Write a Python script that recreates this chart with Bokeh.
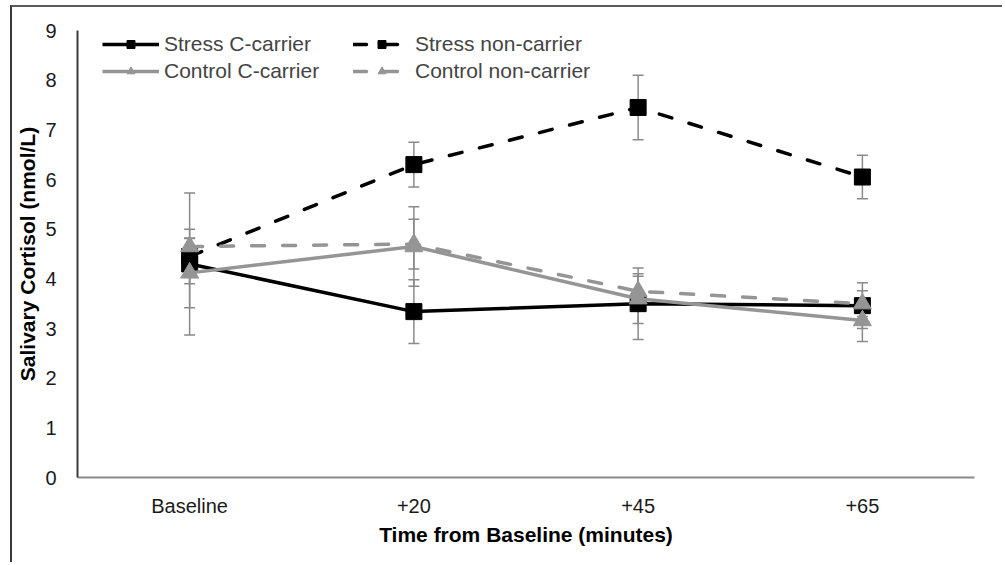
from bokeh.plotting import figure
from bokeh.models import (ColumnDataSource, FactorRange, Range1d, FixedTicker,
                          Whisker, TeeHead, Legend, LegendItem)
from bokeh.embed import file_html
from bokeh.resources import INLINE

# ---- data ----
times = ["Baseline", "+20", "+45", "+65"]

stress_c_mean = [4.30, 3.34, 3.50, 3.46]
stress_c_err = [1.43, 0.64, 0.72, 0.46]

stress_non_mean = [4.45, 6.30, 7.45, 6.05]
stress_non_err = [0.55, 0.45, 0.65, 0.44]

control_c_mean = [4.12, 4.65, 3.60, 3.16]
control_c_err = [0.70, 0.80, 0.50, 0.42]

control_non_mean = [4.65, 4.70, 3.75, 3.50]
control_non_err = [0.16, 0.50, 0.30, 0.26]

series = [
    ("Stress C-carrier", stress_c_mean, stress_c_err, "#000000", "solid", "square"),
    ("Stress non-carrier", stress_non_mean, stress_non_err, "#000000", "13 18", "square"),
    ("Control C-carrier", control_c_mean, control_c_err, "#959595", "solid", "triangle"),
    ("Control non-carrier", control_non_mean, control_non_err, "#959595", "13 18", "triangle"),
]

FONT = "Liberation Sans"

p = figure(width=992, height=557, x_range=FactorRange(*times, range_padding=0),
           y_range=Range1d(0, 9), output_backend="svg", toolbar_location=None,
           min_border_left=65, min_border_right=30, min_border_top=23,
           min_border_bottom=87)
p.styles = {"border-left": "2px solid #3a3a3a", "border-top": "2px solid #5a5a5a",
            "margin-left": "10px", "margin-top": "5px"}
p.outline_line_color = None
p.xgrid.grid_line_color = None
p.ygrid.grid_line_color = None

# axes
p.yaxis.ticker = FixedTicker(ticks=list(range(0, 10)))
p.yaxis.axis_line_color = "#3c3c3c"
p.yaxis.axis_line_width = 2
p.yaxis.major_tick_line_color = None
p.yaxis.minor_tick_line_color = None
p.yaxis.major_label_standoff = 15
p.yaxis.axis_label = "Salivary Cortisol (nmol/L)"
p.yaxis.axis_label_standoff = 3

p.xaxis.axis_line_color = "#8a8a8a"
p.xaxis.axis_line_width = 2
p.xaxis.major_tick_line_color = None
p.xaxis.minor_tick_line_color = None
p.xaxis.major_label_standoff = 11
p.xaxis.axis_label = "Time from Baseline (minutes)"
p.xaxis.axis_label_standoff = 3

for ax in (p.xaxis, p.yaxis):
    ax.major_label_text_font = FONT
    ax.major_label_text_font_size = "20px"
    ax.major_label_text_color = "#1a1a1a"
    ax.axis_label_text_font = FONT
    ax.axis_label_text_font_size = "21px"
    ax.axis_label_text_font_style = "bold"
    ax.axis_label_text_color = "#000000"

line_renderers = []
marker_renderers = []
for name, mean, err, color, dash, marker in series:
    src = ColumnDataSource(dict(x=times, y=mean,
                                lo=[m - e for m, e in zip(mean, err)],
                                hi=[m + e for m, e in zip(mean, err)]))
    lr = p.line("x", "y", source=src, line_color=color, line_width=3.5,
                line_dash=dash, line_cap="round" if dash != "solid" else "butt")
    line_renderers.append(lr)
    w = Whisker(base="x", upper="hi", lower="lo", source=src,
                line_color="#8a8a8a", line_width=1.5,
                upper_head=TeeHead(size=11, line_color="#8a8a8a", line_width=1.5),
                lower_head=TeeHead(size=11, line_color="#8a8a8a", line_width=1.5))
    p.add_layout(w)
    src2 = ColumnDataSource(dict(x=times, y=mean))
    mr = p.scatter("x", "y", source=src2, marker=marker, size=16 if marker == "square" else 18,
                   fill_color=color, line_color=color)
    marker_renderers.append(mr)

# legend is filled column by column: first column = C-carriers
order = [0, 2, 1, 3]
items = [LegendItem(label=series[i][0], renderers=[line_renderers[i], marker_renderers[i]])
         for i in order]
legend = Legend(items=items, ncols=2, location=(25, 394), padding=0, margin=0,
                spacing=3, glyph_width=57, glyph_height=20, label_height=20,
                label_standoff=5, label_width=186,
                label_text_font=FONT, label_text_font_size="21px",
                border_line_color=None, background_fill_alpha=0)
p.add_layout(legend)

open("out.html", "w").write(file_html(p, INLINE))
